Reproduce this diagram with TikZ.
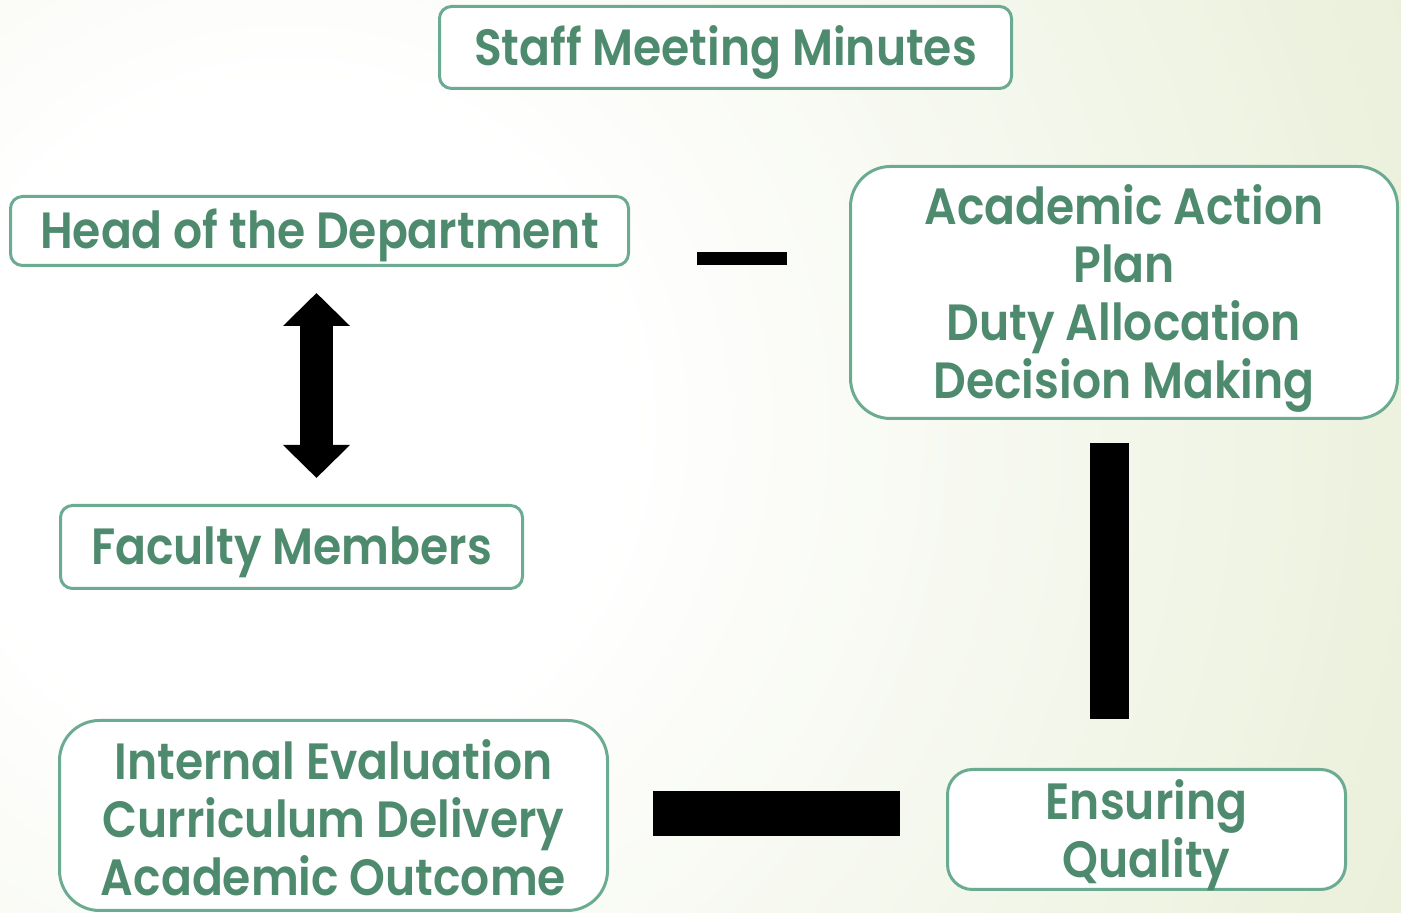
\documentclass[tikz,border=0pt]{standalone}
\usepackage{fontspec}
\setmainfont{Poppins}[BoldFont={* SemiBold},FakeStretch=0.895]
\usetikzlibrary{arrows.meta}
\usetikzlibrary{calc}
\definecolor{txtgreen}{HTML}{4E8A6E}
\definecolor{boxgreen}{HTML}{6BAB91}
\definecolor{bggreen}{HTML}{D9E4BD}
\pgfdeclareradialshading{pagebg}{\pgfpoint{0bp}{0bp}}{color(0bp)=(white); color(6bp)=(white); color(34bp)=(bggreen); color(50bp)=(bggreen)}

\begin{document}
\begin{tikzpicture}[font=\bfseries\fontsize{14.5}{16.5}\selectfont,
		box/.style={draw=boxgreen,line width=0.03cm,fill=white,rounded corners=0.12cm,text=txtgreen,align=center,inner sep=0pt,text height=12pt,text depth=2pt},
		bigbox/.style={box,rounded corners=0.4cm},
		twolines/.style={text height=29.5pt},
		threelines/.style={text height=47.5pt},
		fourlines/.style={text height=62.5pt},
		link/.style={line width=#1}]
	\useasboundingbox (0,0) rectangle (14.01,9.13);
	\begin{scope}
		\clip (0,0) rectangle (14.01,9.13);
		\shade[shading=pagebg] (2.9,4.9) circle (14cm);
	\end{scope}
	\node[box,minimum width=5.72cm,minimum height=0.82cm] (minutes) at (7.255,8.655) {Staff Meeting Minutes};
	\node[box,minimum width=6.18cm,minimum height=0.69cm] (head) at (3.195,6.82) {Head of the Department};
	\node[bigbox,fourlines,minimum width=5.47cm,minimum height=2.52cm] (plan) at (11.24,6.205) {Academic Action\\Plan\\Duty Allocation\\Decision Making};
	\node[box,minimum width=4.62cm,minimum height=0.83cm] (faculty) at (2.915,3.66) {Faculty Members};
	\node[bigbox,threelines,minimum width=5.48cm,minimum height=1.90cm] (evaluation) at (3.335,0.975) {Internal Evaluation\\Curriculum Delivery\\Academic Outcome};
	\node[box,twolines,rounded corners=0.25cm,minimum width=3.98cm,minimum height=1.20cm] (quality) at (11.465,0.835) {Ensuring\\Quality};
	\draw[link=0.13cm] ($(head.east)+(0.67,-0.275)$) -- ($(head.east -| plan.west)+(-0.62,-0.275)$);
	\draw[link=0.39cm] ($(plan.south)+(-0.145,-0.23)$) -- ($(plan.south |- quality.north)+(-0.145,0.49)$);
	\draw[link=0.45cm] ($(evaluation.east)+(0.44,0.02)$) -- ($(evaluation.east -| quality.west)+(-0.46,0.02)$);
	\draw[link=0.33cm,{Triangle[length=0.33cm,width=0.65cm]}-{Triangle[length=0.33cm,width=0.65cm]}] ($(head.south)+(-0.03,-0.26)$) -- ($(head.south |- faculty.north)+(-0.03,0.26)$);
\end{tikzpicture}
\end{document}
